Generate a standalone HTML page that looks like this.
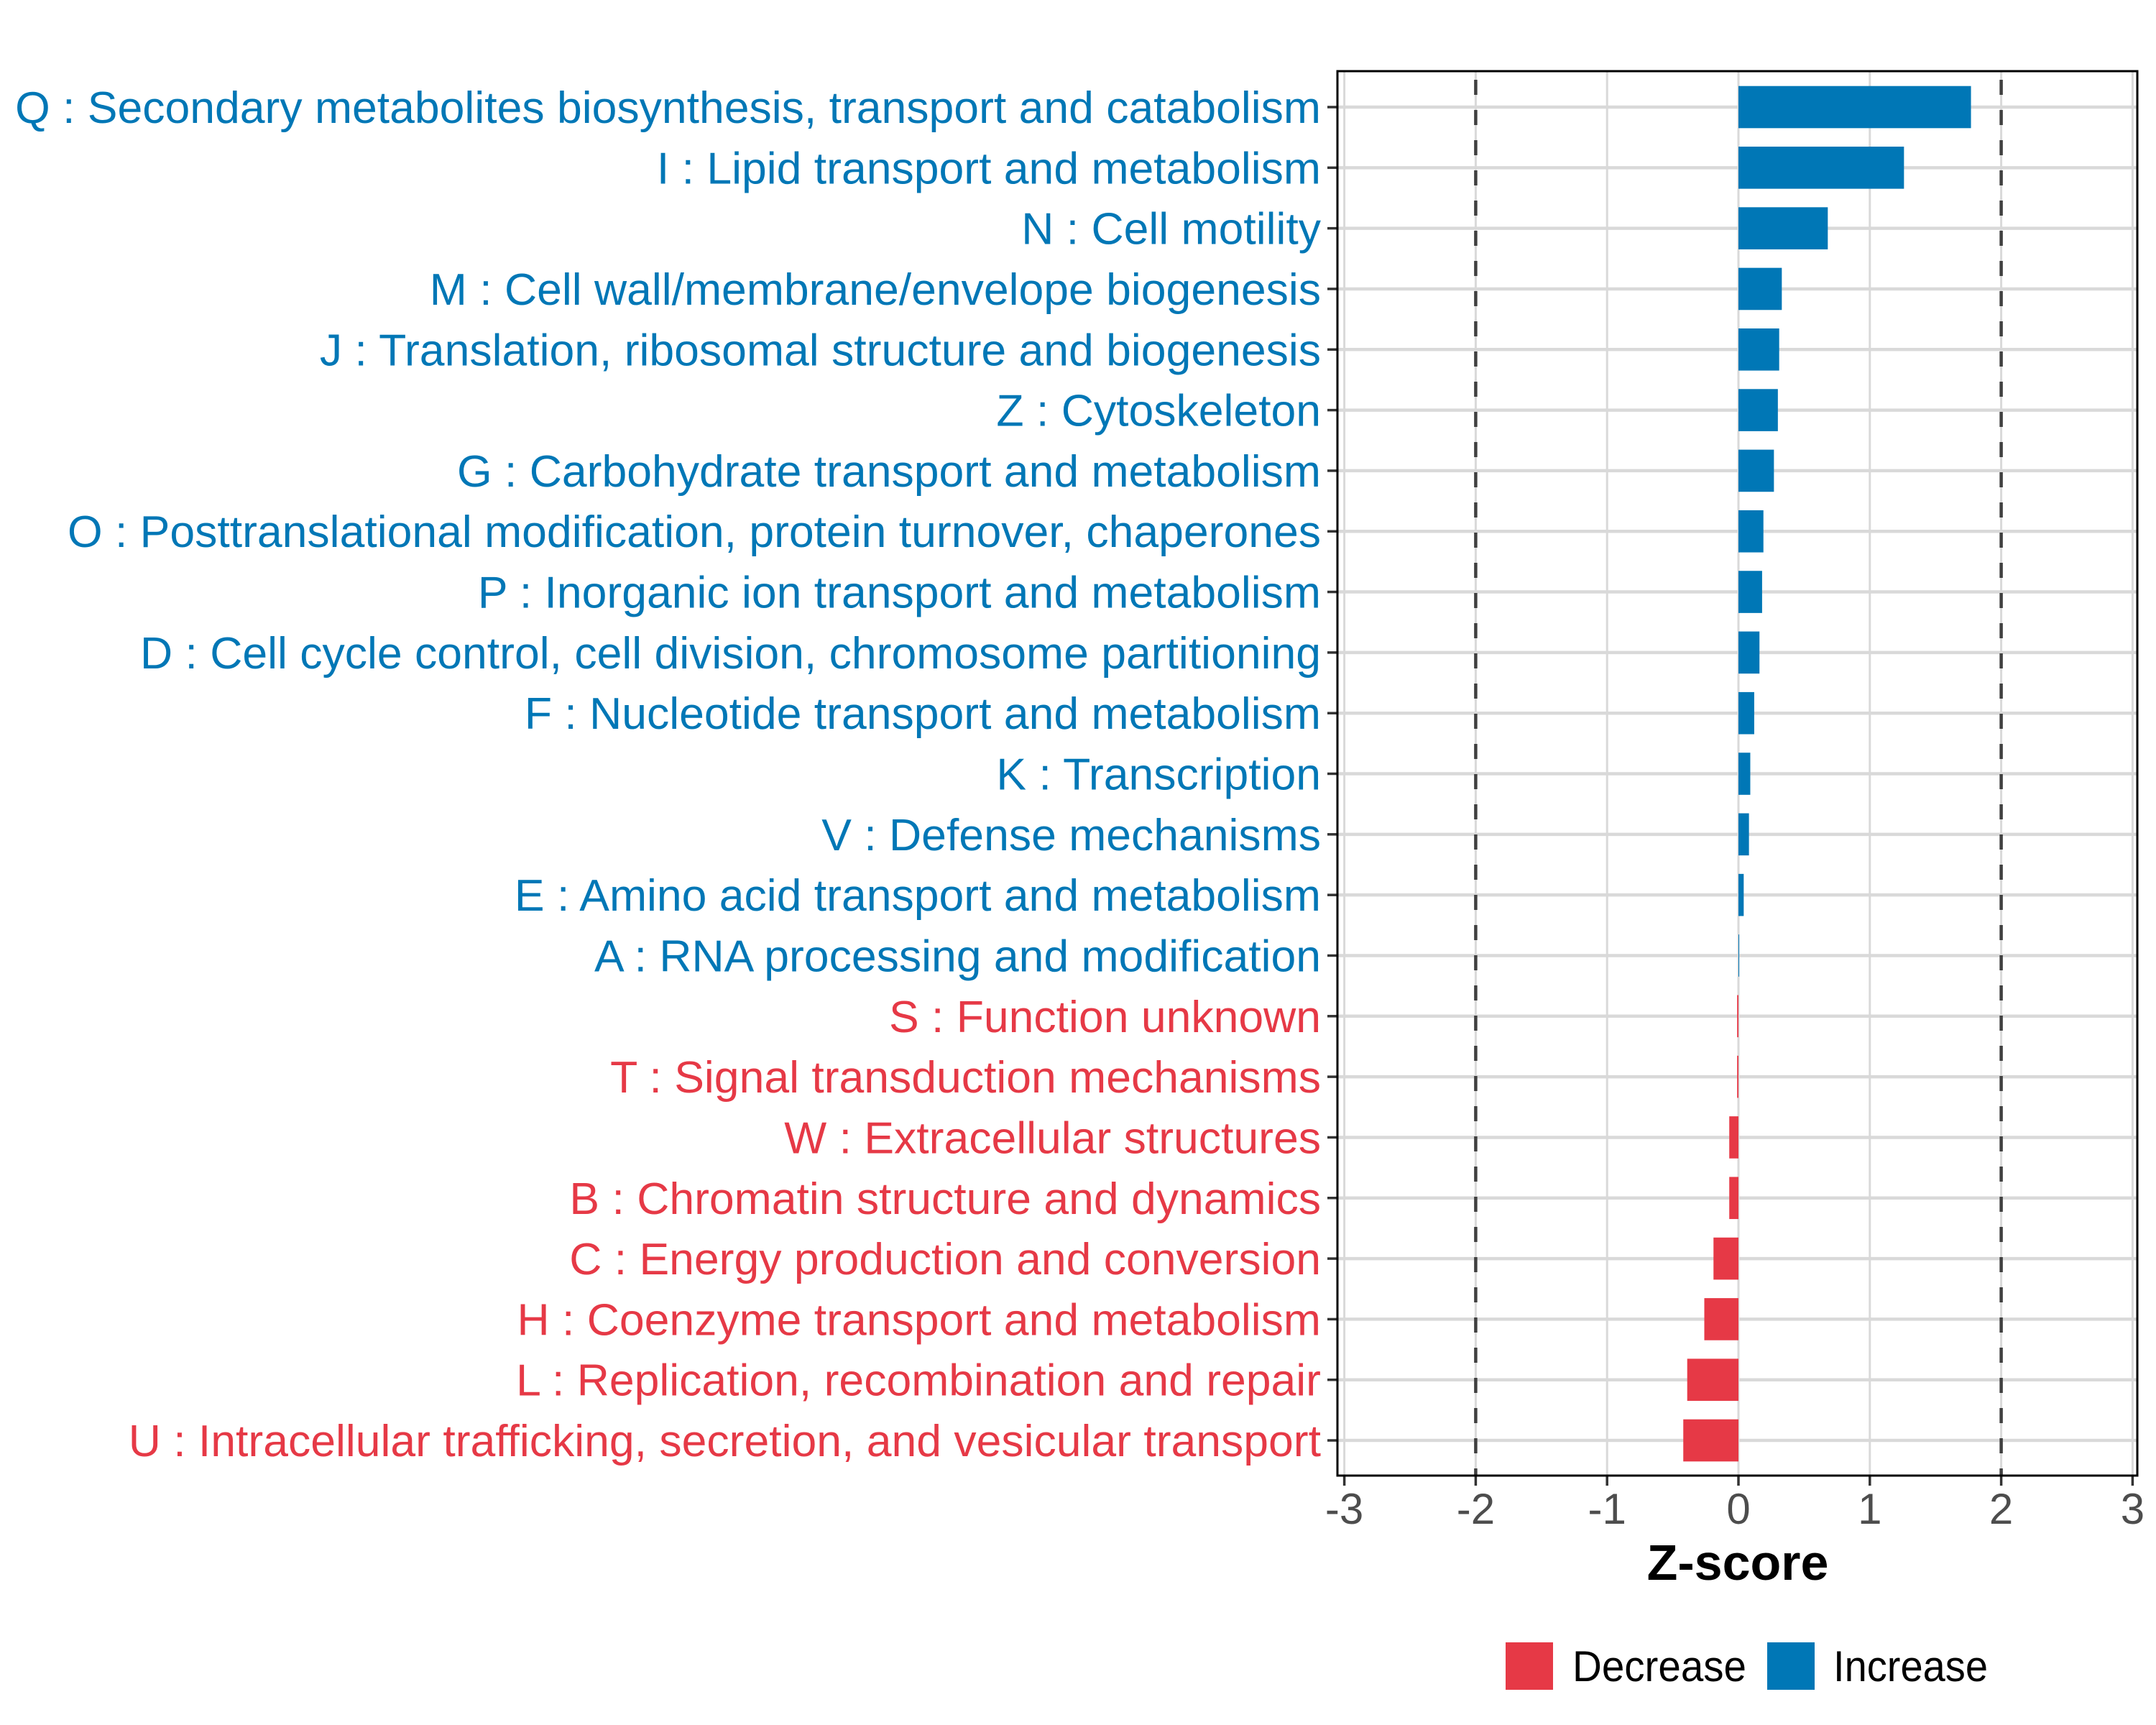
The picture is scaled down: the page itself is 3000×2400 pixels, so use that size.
<!DOCTYPE html>
<html><head><meta charset="utf-8"><style>
html,body{margin:0;padding:0;background:#fff}
svg{display:block}
text{font-family:"Liberation Sans",Arial,sans-serif}
</style></head><body>
<svg id="chart" width="3000" height="2400" viewBox="0 0 3000 2400" xmlns="http://www.w3.org/2000/svg">
<g id="grid"></g>
<g id="bars"></g>
<g id="ylabels"></g>
<g id="xaxis"></g>
<text x="2418" y="2198" font-size="70" font-weight="bold" text-anchor="middle" fill="#000">Z-score</text>
<g>
<rect x="2095" y="2285" width="66" height="66" fill="#E63946"/>
<text x="2188" y="2339" font-size="60" fill="#000" textLength="242" lengthAdjust="spacingAndGlyphs">Decrease</text>
<rect x="2459" y="2285" width="66" height="66" fill="#0077B6"/>
<text x="2551" y="2339" font-size="60" fill="#000" textLength="215" lengthAdjust="spacingAndGlyphs">Increase</text>
</g>
</svg>
<script>
const categories = [
"Q : Secondary metabolites biosynthesis, transport and catabolism",
"I : Lipid transport and metabolism",
"N : Cell motility",
"M : Cell wall/membrane/envelope biogenesis",
"J : Translation, ribosomal structure and biogenesis",
"Z : Cytoskeleton",
"G : Carbohydrate transport and metabolism",
"O : Posttranslational modification, protein turnover, chaperones",
"P : Inorganic ion transport and metabolism",
"D : Cell cycle control, cell division, chromosome partitioning",
"F : Nucleotide transport and metabolism",
"K : Transcription",
"V : Defense mechanisms",
"E : Amino acid transport and metabolism",
"A : RNA processing and modification",
"S : Function unknown",
"T : Signal transduction mechanisms",
"W : Extracellular structures",
"B : Chromatin structure and dynamics",
"C : Energy production and conversion",
"H : Coenzyme transport and metabolism",
"L : Replication, recombination and repair",
"U : Intracellular trafficking, secretion, and vesicular transport"];
const zscores = [1.77,1.26,0.68,0.33,0.31,0.30,0.27,0.19,0.18,0.16,0.12,0.09,0.08,0.04,0.005,-0.01,-0.01,-0.07,-0.07,-0.19,-0.26,-0.39,-0.42];
const xTicks = [-3,-2,-1,0,1,2,3];
const xTickLabels = ["-3","-2","-1","0","1","2","3"];
const thresholds = [-2,2];

const NS="http://www.w3.org/2000/svg";
const P={l:1861,r:2974,t:99,b:2053};
const x=v=>2419+v*182.8;
const y=i=>149+i*84.32;
const BLUE="#0077B6", RED="#E63946";
function mk(tag,attrs,parent){const e=document.createElementNS(NS,tag);for(const k in attrs)e.setAttribute(k,attrs[k]);parent.appendChild(e);return e;}
const grid=document.getElementById('grid'),bars=document.getElementById('bars'),yl=document.getElementById('ylabels'),xa=document.getElementById('xaxis');

xTicks.forEach((t,i)=>{
  const g=mk('line',{x1:x(t),x2:x(t),y1:P.t,y2:P.b,stroke:'#d9d9d9','stroke-width':3},grid);
  
  
  const tk=mk('line',{x1:x(t),x2:x(t),y1:P.b,y2:P.b+14,stroke:'#333','stroke-width':3.5},xa);
  
  
  const tl=mk('text',{x:x(t),y:2120,'font-size':60,'text-anchor':'middle',fill:'#4d4d4d'},xa);
  tl.textContent=xTickLabels[i];
  
  
});
categories.forEach((c,i)=>{
  const g=mk('line',{x1:P.l,x2:P.r,y1:y(i),y2:y(i),stroke:'#d9d9d9','stroke-width':4.5},grid);
  
  
  const v=zscores[i];
  const col=v>=0?BLUE:RED;
  const b=mk('rect',{x:Math.min(x(0),x(v)),y:y(i)-29.3,width:Math.max(Math.abs(x(v)-x(0)),1),height:58.6,fill:col},bars);
  
  
  const tk=mk('line',{x1:P.l-14,x2:P.l,y1:y(i),y2:y(i),stroke:'#333','stroke-width':3.5},yl);
  
  
  const t=mk('text',{x:1838,y:y(i)+22,'font-size':62.5,'text-anchor':'end',fill:col},yl);
  t.textContent=c;
  
  
});
thresholds.forEach(t=>{
  const d=mk('line',{x1:x(t),x2:x(t),y1:P.t,y2:P.b,stroke:'#404040','stroke-width':4.5,'stroke-dasharray':'21 21','stroke-dashoffset':'-12'},bars);
  
  
});
const fr=mk('rect',{x:P.l,y:P.t,width:P.r-P.l,height:P.b-P.t,fill:'none',stroke:'#000','stroke-width':3},xa);


</script>
</body></html>
